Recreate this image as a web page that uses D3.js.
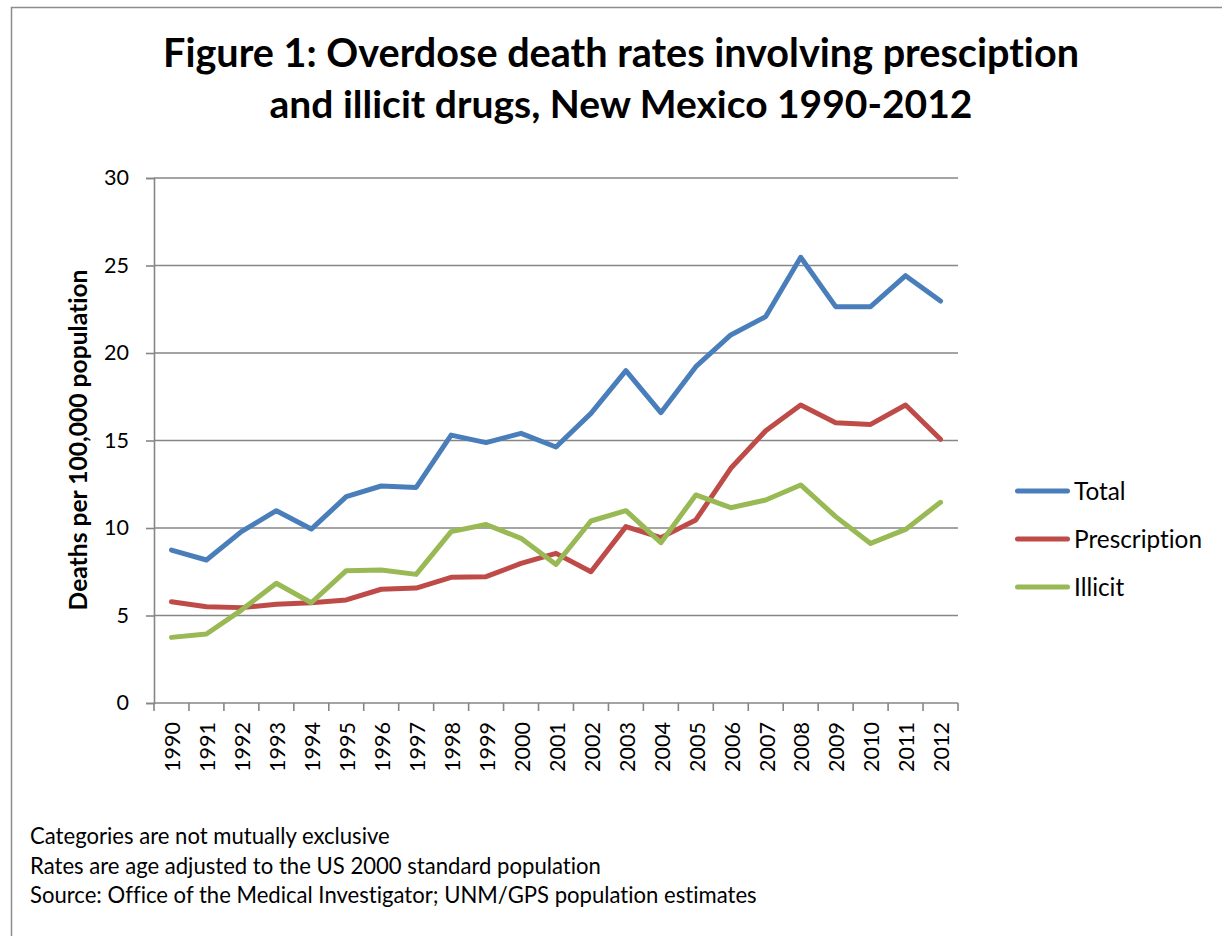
<!DOCTYPE html>
<html>
<head>
<meta charset="utf-8">
<script src="https://cdn.jsdelivr.net/npm/d3@7"></script>
<style>
  html, body { margin: 0; padding: 0; background: #fff; }
  svg { display: block; }
  text { font-family: Lato, "Open Sans", sans-serif; fill: #000; font-variant-ligatures: none; font-feature-settings: "liga" 0, "clig" 0; }
</style>
</head>
<body>
<svg id="chart" width="1222" height="936"></svg>
<script>
const years = ["1990","1991","1992","1993","1994","1995","1996","1997","1998","1999","2000","2001","2002","2003","2004","2005","2006","2007","2008","2009","2010","2011","2012"];
const total = [8.74, 8.17, 9.79, 10.99, 9.94, 11.79, 12.40, 12.32, 15.31, 14.88, 15.41, 14.63, 16.55, 18.99, 16.59, 19.22, 21.03, 22.08, 25.47, 22.65, 22.65, 24.42, 22.97];
const prescription = [5.79, 5.50, 5.45, 5.64, 5.73, 5.89, 6.50, 6.57, 7.18, 7.22, 7.98, 8.55, 7.50, 10.08, 9.45, 10.46, 13.41, 15.56, 17.03, 16.02, 15.92, 17.03, 15.07];
const illicit = [3.75, 3.94, 5.31, 6.84, 5.73, 7.56, 7.60, 7.35, 9.79, 10.20, 9.41, 7.92, 10.40, 10.99, 9.16, 11.89, 11.16, 11.60, 12.46, 10.65, 9.12, 9.92, 11.47];
const seriesNames = ["Total", "Prescription", "Illicit"];
const yTicks = [0, 5, 10, 15, 20, 25, 30];
const titleLines = ["Figure 1: Overdose death rates involving presciption", "and illicit drugs, New Mexico 1990-2012"];
const yAxisTitle = "Deaths per 100,000 population";
const notes = ["Categories are not mutually exclusive", "Rates are age adjusted to the US 2000 standard population", "Source: Office of the Medical Investigator; UNM/GPS population estimates"];

(function () {
const colors = ["#4A7EBB", "#BE4B48", "#98B954"];
const seriesValues = [total, prescription, illicit];

const svg = d3.select("#chart");
const pLeft = 154, pRight = 958, pTop = 178, pBottom = 703;
const gridColor = "#868686";

function fit(sel, w) {
  const cur = parseFloat(sel.attr("font-size"));
  const len = sel.node().getComputedTextLength();
  const s = cur * w / len;
  sel.attr("font-size", s.toFixed(2));
  return s;
}

// outer frame
svg.append("path")
  .attr("d", "M11.5,940 V7.5 H1230")
  .attr("fill", "none").attr("stroke", "#8c8c8c").attr("stroke-width", 1.5);

// title
const titleWidths = [916, 703];
const titleBase = [67, 118];
titleLines.forEach((t, i) => {
  const s = svg.append("text").attr("x", 621).attr("y", titleBase[i])
    .attr("text-anchor", "middle").attr("font-weight", "bold")
    .attr("font-size", 38).text(t);
  fit(s, titleWidths[i]);
});

const x = d3.scaleBand().domain(years).range([pLeft, pRight]);
const y = d3.scaleLinear().domain([0, 30]).range([pBottom, pTop]);

// tick label size: fit "1990" to reference width
const probe = svg.append("text").attr("font-size", 22).text(years[0]);
const tickSize = fit(probe, 50);
probe.remove();

// gridlines
svg.append("g").selectAll("line").data(yTicks.filter(d => d > 0)).join("line")
  .attr("x1", pLeft).attr("x2", pRight)
  .attr("y1", d => y(d)).attr("y2", d => y(d))
  .attr("stroke", gridColor).attr("stroke-width", 1.6);

// y axis
const yAxis = svg.append("g").attr("transform", `translate(${pLeft},0)`)
  .call(d3.axisLeft(y).tickValues(yTicks).tickSize(8).tickPadding(17).tickFormat(d3.format("d")));
yAxis.select(".domain").attr("stroke", gridColor).attr("stroke-width", 1.6);
yAxis.selectAll(".tick line").attr("stroke", gridColor).attr("stroke-width", 1.6);
yAxis.selectAll(".tick text").attr("font-size", tickSize.toFixed(2)).attr("font-family", "Lato").attr("fill", "#000");

// x axis
const xAxis = svg.append("g").attr("transform", `translate(0,${pBottom})`)
  .call(d3.axisBottom(x).tickSize(0).tickPadding(0));
xAxis.select(".domain").remove();
xAxis.selectAll(".tick text")
  .attr("font-size", tickSize.toFixed(2)).attr("font-family", "Lato").attr("fill", "#000")
  .attr("text-anchor", "end")
  .attr("transform", "translate(1,19) rotate(-90)")
  .attr("x", 0).attr("y", 0).attr("dy", "0.36em");
svg.append("line").attr("x1", pLeft).attr("x2", pRight).attr("y1", pBottom).attr("y2", pBottom)
  .attr("stroke", gridColor).attr("stroke-width", 1.6);
const bounds = years.map(d => x(d)).concat([x(years[years.length - 1]) + x.bandwidth()]);
svg.append("g").selectAll("line").data(bounds).join("line")
  .attr("x1", d => d).attr("x2", d => d).attr("y1", pBottom).attr("y2", pBottom + 8)
  .attr("stroke", gridColor).attr("stroke-width", 1.6);

// y axis title
const yt = svg.append("text").attr("transform", "translate(87,440) rotate(-90)")
  .attr("text-anchor", "middle").attr("font-weight", "bold").attr("font-size", 21).text(yAxisTitle);
fit(yt, 341);

// lines
const line = d3.line().x((d, i) => x(years[i]) + x.bandwidth() / 2).y(d => y(d));
seriesValues.forEach((vals, i) => {
  svg.append("path").datum(vals).attr("d", line)
    .attr("fill", "none").attr("stroke", colors[i]).attr("stroke-width", 5)
    .attr("stroke-linejoin", "round").attr("stroke-linecap", "round");
});

// legend
const legY = [491, 539, 587];
const lg = svg.append("g");
seriesNames.forEach((n, i) => {
  lg.append("line").attr("x1", 1017.5).attr("x2", 1067.5).attr("y1", legY[i]).attr("y2", legY[i])
    .attr("stroke", colors[i]).attr("stroke-width", 5).attr("stroke-linecap", "round");
});
const legTexts = seriesNames.map((n, i) =>
  lg.append("text").attr("x", 1074).attr("y", legY[i] + 8.5).attr("font-size", 23).text(n));
const legSize = fit(legTexts[1], 128);
legTexts.forEach(t => t.attr("font-size", legSize.toFixed(2)));

// notes
const noteBase = [844, 873.5, 903];
const noteTexts = notes.map((n, i) =>
  svg.append("text").attr("x", 30).attr("y", noteBase[i]).attr("font-size", 20).text(n));
const ns = fit(noteTexts[2], 727);
noteTexts.forEach(t => t.attr("font-size", ns.toFixed(2)));
})();
</script>
</body>
</html>
